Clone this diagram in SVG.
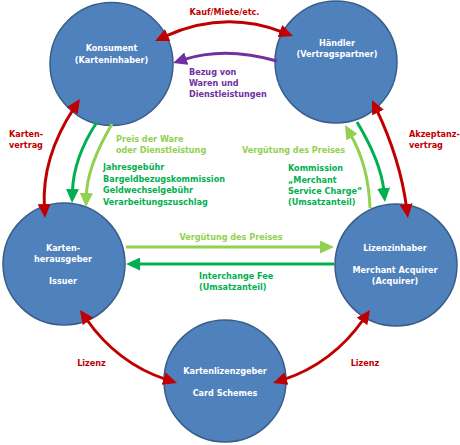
<svg xmlns="http://www.w3.org/2000/svg" width="460" height="445" viewBox="0 0 460 445">
<defs>
<marker id="mr" markerUnits="userSpaceOnUse" viewBox="0 0 14 13" markerWidth="14" markerHeight="13" refX="3" refY="6.5" orient="auto-start-reverse"><path d="M0,0 L14,6.5 L0,13 z" fill="#C00000"/></marker>
<marker id="mp" markerUnits="userSpaceOnUse" viewBox="0 0 14 13" markerWidth="14" markerHeight="13" refX="3" refY="6.5" orient="auto-start-reverse"><path d="M0,0 L14,6.5 L0,13 z" fill="#7030A0"/></marker>
<marker id="mg" markerUnits="userSpaceOnUse" viewBox="0 0 14 13" markerWidth="14" markerHeight="13" refX="3" refY="6.5" orient="auto-start-reverse"><path d="M0,0 L14,6.5 L0,13 z" fill="#00B050"/></marker>
<marker id="ml" markerUnits="userSpaceOnUse" viewBox="0 0 14 13" markerWidth="14" markerHeight="13" refX="3" refY="6.5" orient="auto-start-reverse"><path d="M0,0 L14,6.5 L0,13 z" fill="#92D050"/></marker>
</defs>
<style>
.node{fill:#4F81BD;stroke:#385D8A;stroke-width:1.5}
text{font-family:"DejaVu Sans Condensed","Liberation Sans",sans-serif;font-weight:bold;font-size:9px}
.nt{fill:#FFFFFF;text-anchor:middle}
.c{fill:none;stroke-width:3}
.r{stroke:#C00000}.p{stroke:#7030A0}.g{stroke:#00B050}.l{stroke:#92D050}
.tr{fill:#C00000}.tp{fill:#7030A0}.tg{fill:#00B050}.tl{fill:#92D050}
</style>
<rect width="460" height="445" fill="#FFFFFF"/>
<g id="konsument"><circle class="node" cx="111.5" cy="64" r="61.5"/><text class="nt" x="111.5" y="51">Konsument</text><text class="nt" x="111.5" y="62.7">(Karteninhaber)</text></g>
<g id="haendler"><circle class="node" cx="336" cy="62" r="61"/><text class="nt" x="337" y="46.3">Händler</text><text class="nt" x="337" y="57">(Vertragspartner)</text></g>
<g id="issuer"><circle class="node" cx="64" cy="264" r="61"/><text class="nt" x="63" y="250.5">Karten-</text><text class="nt" x="63" y="262">herausgeber</text><text class="nt" x="63" y="284">Issuer</text></g>
<g id="acquirer"><circle class="node" cx="396" cy="265" r="61"/><text class="nt" x="395" y="251">Lizenzinhaber</text><text class="nt" x="395" y="272.5">Merchant Acquirer</text><text class="nt" x="395" y="284">(Acquirer)</text></g>
<g id="schemes"><circle class="node" cx="225" cy="381" r="61"/><text class="nt" x="225" y="374">Kartenlizenzgeber</text><text class="nt" x="225" y="396">Card Schemes</text></g>
<g id="connectors">
<path class="c r" d="M165,36.4 Q224,9.5 282.7,32.1" marker-start="url(#mr)" marker-end="url(#mr)"/>
<path class="c p" d="M277,61 Q225,46 183.5,59.6" marker-end="url(#mp)"/>
<path class="c r" d="M73.9,108.2 Q41.5,157.5 44.4,207" marker-start="url(#mr)" marker-end="url(#mr)"/>
<path class="c g" d="M97,122 Q73.5,157.5 72.4,192" marker-end="url(#mg)"/>
<path class="c l" d="M112,124 Q87,166.5 86.3,196" marker-end="url(#ml)"/>
<path class="c l" d="M370,208 Q368.5,165.5 350.5,134.5" marker-end="url(#ml)"/>
<path class="c g" d="M357,122 Q381,162 383.9,191" marker-end="url(#mg)"/>
<path class="c r" d="M376.7,109.9 Q400,159 406.5,207.1" marker-start="url(#mr)" marker-end="url(#mr)"/>
<path class="c l" d="M126,247 L323,247" marker-end="url(#ml)"/>
<path class="c g" d="M334,264 L137,264" marker-end="url(#mg)"/>
<path class="c r" d="M86.3,319 Q117.5,363.5 166.5,379.6" marker-start="url(#mr)" marker-end="url(#mr)"/>
<path class="c r" d="M363.7,319 Q332.5,363.5 283.5,379.6" marker-start="url(#mr)" marker-end="url(#mr)"/>
</g>
<g id="labels">
<text class="tr" x="224.5" y="15" text-anchor="middle">Kauf/Miete/etc.</text>
<text class="tp" x="189" y="74.5">Bezug von</text>
<text class="tp" x="189" y="85.5">Waren und</text>
<text class="tp" x="189" y="96.5">Dienstleistungen</text>
<text class="tr" x="9" y="136.5">Karten-</text>
<text class="tr" x="9" y="148">vertrag</text>
<text class="tl" x="116" y="141.5">Preis der Ware</text>
<text class="tl" x="116" y="153.3">oder Dienstleistung</text>
<text class="tg" x="103" y="170">Jahresgebühr</text>
<text class="tg" x="103" y="181.5">Bargeldbezugskommission</text>
<text class="tg" x="103" y="193">Geldwechselgebühr</text>
<text class="tg" x="103" y="204.5">Verarbeitungszuschlag</text>
<text class="tl" x="242" y="152.5">Vergütung des Preises</text>
<text class="tg" x="288" y="171">Kommission</text>
<text class="tg" x="288" y="182.5">„Merchant</text>
<text class="tg" x="288" y="193.5">Service Charge“</text>
<text class="tg" x="288" y="204.5">(Umsatzanteil)</text>
<text class="tr" x="409" y="136.5">Akzeptanz-</text>
<text class="tr" x="409" y="147.5">vertrag</text>
<text class="tl" x="231" y="239.5" text-anchor="middle">Vergütung des Preises</text>
<text class="tg" x="199" y="278.5">Interchange Fee</text>
<text class="tg" x="199" y="290">(Umsatzanteil)</text>
<text class="tr" x="91.5" y="366" text-anchor="middle">Lizenz</text>
<text class="tr" x="365" y="366" text-anchor="middle">Lizenz</text>
</g>
</svg>
